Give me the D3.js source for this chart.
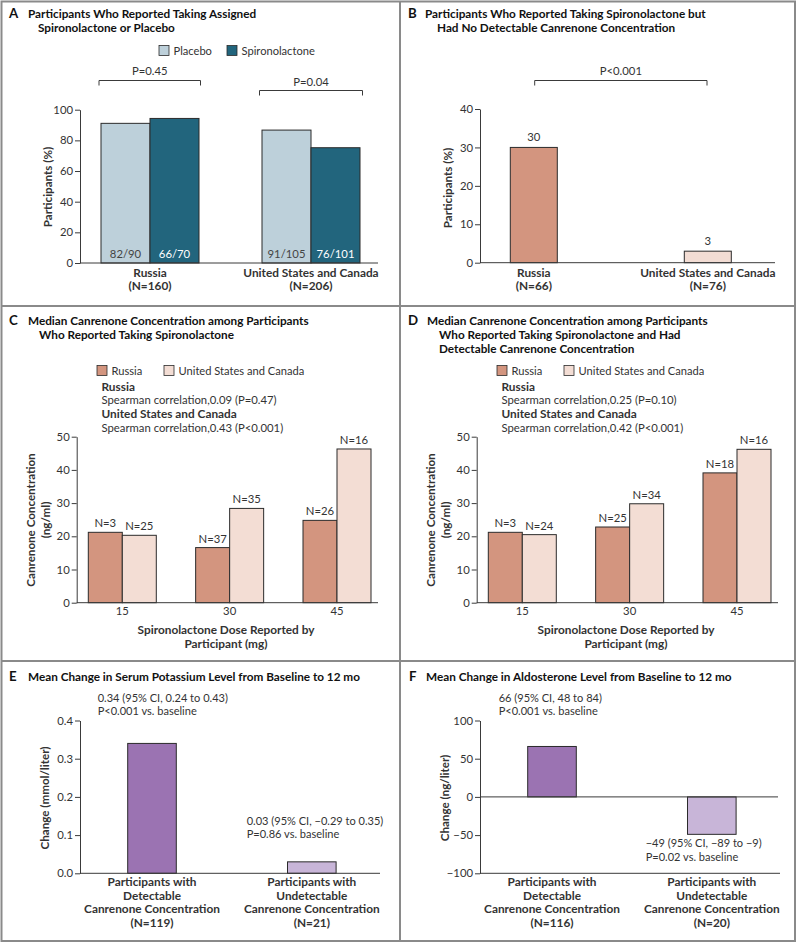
<!DOCTYPE html>
<html><head><meta charset="utf-8">
<script src="https://cdn.jsdelivr.net/npm/d3@7"></script>
<style>body{margin:0;background:#fff} text{font-family:Lato, "DejaVu Sans", sans-serif}</style>
</head><body><svg id="c" width="800" height="945"></svg>
<script>
// ---------- Data ----------
const regionsA = ["Russia", "United States and Canada"];
const regionsAN = ["(N=160)", "(N=206)"];
const seriesA = ["Placebo", "Spironolactone"];
const placeboPct = [91.1, 86.7];
const spiroPct = [94.3, 75.2];
const placeboFrac = ["82/90", "91/105"];
const spiroFrac = ["66/70", "76/101"];
const pValuesA = ["P=0.45", "P=0.04"];
const ticksA = [0, 20, 40, 60, 80, 100];

const regionsB = ["Russia", "United States and Canada"];
const regionsBN = ["(N=66)", "(N=76)"];
const undetectablePct = [30, 3];
const pValueB = "P<0.001";
const ticksB = [0, 10, 20, 30, 40];

const seriesCD = ["Russia", "United States and Canada"];
const doses = ["15", "30", "45"];
const medianC_Russia = [21.2, 16.6, 24.8];
const medianC_US = [20.3, 28.4, 46.3];
const nC_Russia = [3, 37, 26];
const nC_US = [25, 35, 16];
const corrC = ["Spearman correlation,0.09 (P=0.47)", "Spearman correlation,0.43 (P<0.001)"];
const medianD_Russia = [21.2, 22.8, 39.1];
const medianD_US = [20.5, 29.8, 46.2];
const nD_Russia = [3, 25, 18];
const nD_US = [24, 34, 16];
const corrD = ["Spearman correlation,0.25 (P=0.10)", "Spearman correlation,0.42 (P<0.001)"];
const ticksCD = [0, 10, 20, 30, 40, 50];

const groupsEF = [["Participants with", "Detectable", "Canrenone Concentration"],
                  ["Participants with", "Undetectable", "Canrenone Concentration"]];
const nE = ["(N=119)", "(N=21)"];
const potassiumChange = [0.34, 0.03];
const potassiumNotes = [["0.34 (95% CI, 0.24 to 0.43)", "P<0.001 vs. baseline"],
                        ["0.03 (95% CI, −0.29 to 0.35)", "P=0.86 vs. baseline"]];
const ticksE = [0.0, 0.1, 0.2, 0.3, 0.4];
const nF = ["(N=116)", "(N=20)"];
const aldosteroneChange = [66, -49];
const aldosteroneNotes = [["66 (95% CI, 48 to 84)", "P<0.001 vs. baseline"],
                          ["−49 (95% CI, −89 to −9)", "P=0.02 vs. baseline"]];
const ticksF = [-100, -50, 0, 50, 100];

// ---------- Style ----------
const C = {
  placebo: "#bdd0da", spiro: "#22657d",
  russia: "#d3957f", us: "#f3ddd4",
  purple: "#9b73b2", lilac: "#c8b5d8",
  stroke: "#2b2b2b", axis: "#3a3a3a", text: "#333", frame: "#8a8a8a"
};
const svg = d3.select("#c");

// font sizes fitted so that reference strings get the reference widths
function fitSize(str, weight, target) {
  const t = svg.append("text").attr("font-size", 100).attr("font-weight", weight).text(str);
  const w = t.node().getComputedTextLength();
  t.remove();
  return +(100 * target / w).toFixed(2);
}
const FS = {
  reg: fitSize("Spearman correlation,0.09 (P=0.47)", 400, 175.3),
  legend: fitSize("United States and Canada", 400, 126),
  note: fitSize("0.03 (95% CI, −0.29 to 0.35)", 400, 136.7),
  bold: fitSize("United States and Canada", 700, 135.3),
  title: fitSize("Median Canrenone Concentration among Participants", 700, 280.7),
  ylab: fitSize("Canrenone Concentration", 700, 133.3),
  tick: fitSize("N=35", 400, 28.3)
};

// Frame
svg.append("rect").attr("x", 1.5).attr("y", 1.5).attr("width", 793.5).attr("height", 939.5)
  .attr("fill", "none").attr("stroke", C.frame).attr("stroke-width", 2);
svg.append("line").attr("x1", 400).attr("x2", 400).attr("y1", 1.5).attr("y2", 941)
  .attr("stroke", C.frame).attr("stroke-width", 2);
[306, 661].forEach(y => svg.append("line").attr("x1", 1.5).attr("x2", 795).attr("y1", y).attr("y2", y)
  .attr("stroke", C.frame).attr("stroke-width", 2));

function txt(g, x, y, s, o = {}) {
  return g.append("text").attr("x", x).attr("y", y).text(s)
    .attr("font-size", o.size || FS.reg).attr("font-weight", o.weight || 400)
    .attr("fill", o.fill || C.text).attr("text-anchor", o.anchor || "start");
}
function title(letter, lx, tx, tx2, y0, lines) {
  txt(svg, lx, y0, letter, {size: FS.title + 1.5, weight: 700, fill: "#111"});
  lines.forEach((l, i) => txt(svg, i === 0 ? tx : tx2, y0 + i * 14, l, {size: FS.title, weight: 700, fill: "#111"}));
}
function yAxis(x, scale, ticks, fmt) {
  const g = svg.append("g").attr("transform", `translate(${x},0)`)
    .call(d3.axisLeft(scale).tickValues(ticks).tickSize(5).tickPadding(2).tickSizeOuter(0).tickFormat(fmt));
  g.select(".domain").attr("stroke", C.axis);
  g.selectAll(".tick line").attr("stroke", C.axis);
  g.selectAll(".tick text").attr("font-size", FS.tick).attr("fill", C.text).attr("font-family", "Lato, sans-serif");
  return g;
}
function hline(x1, x2, y) {
  svg.append("line").attr("x1", x1).attr("x2", x2).attr("y1", y).attr("y2", y).attr("stroke", C.axis).attr("stroke-width", 1);
}
function yLabel(x, y, lines) {
  lines.forEach((l, i) => svg.append("text").attr("transform", `translate(${x + i * 15},${y}) rotate(-90)`)
    .attr("text-anchor", "middle").attr("font-size", FS.ylab).attr("font-weight", 700).attr("fill", C.text).text(l));
}
function bracket(x1, x2, y, label, ly) {
  svg.append("path").attr("d", `M${x1},${y + 5}V${y}H${x2}V${y + 5}`).attr("fill", "none").attr("stroke", C.axis);
  txt(svg, (x1 + x2) / 2, ly, label, {anchor: "middle", size: FS.tick});
}
function legend(items, y) {
  items.forEach(it => {
    svg.append("rect").attr("x", it.x).attr("y", y).attr("width", 10).attr("height", 10)
      .attr("fill", it.color).attr("stroke", C.stroke).attr("stroke-width", 0.8);
    txt(svg, it.x + 14.5, y + 9.5, it.label, {size: FS.legend});
  });
}

// ---------- Panel A ----------
title("A", 9, 28, 38, 18, ["Participants Who Reported Taking Assigned", "Spironolactone or Placebo"]);
legend([{x: 159, color: C.placebo, label: "Placebo"}, {x: 227, color: C.spiro, label: "Spironolactone"}], 45.5);
{
  const y = d3.scaleLinear().domain([0, 100]).range([263, 109.7]);
  const xg = d3.scalePoint().domain(regionsA).range([150, 311]);
  const xs = d3.scaleBand().domain(seriesA).range([-49, 49]);
  const rows = regionsA.map((r, i) => ({r, vals: [placeboPct[i], spiroPct[i]], fr: [placeboFrac[i], spiroFrac[i]]}));
  rows.forEach((row, i) => {
    seriesA.forEach((s, j) => {
      const x0 = xg(row.r) + xs(s);
      svg.append("rect").attr("x", x0).attr("y", y(row.vals[j])).attr("width", xs.bandwidth())
        .attr("height", y(0) - y(row.vals[j])).attr("fill", j ? C.spiro : C.placebo)
        .attr("stroke", C.stroke).attr("stroke-width", 1);
      txt(svg, x0 + xs.bandwidth() / 2, 257.5, row.fr[j], {anchor: "middle", size: FS.tick, fill: j ? "#fff" : "#444"});
    });
    txt(svg, xg(row.r), 276.5, row.r, {anchor: "middle", weight: 700, size: FS.bold});
    txt(svg, xg(row.r), 290, regionsAN[i], {anchor: "middle", weight: 700, size: FS.bold});
  });
  yAxis(80, y, ticksA, d3.format("d"));
  hline(80, 378, y(0));
  yLabel(52, 187, ["Participants (%)"]);
  bracket(99, 200.5, 80.5, pValuesA[0], 75);
  bracket(259.5, 362.5, 90.5, pValuesA[1], 85.5);
}

// ---------- Panel B ----------
title("B", 408, 425, 437, 18, ["Participants Who Reported Taking Spironolactone but", "Had No Detectable Canrenone Concentration"]);
{
  const y = d3.scaleLinear().domain([0, 40]).range([262.7, 109]);
  const x = d3.scalePoint().domain(regionsB).range([533.8, 707.8]);
  const cols = [C.russia, C.us];
  regionsB.forEach((r, i) => {
    svg.append("rect").attr("x", x(r) - 23.5).attr("y", y(undetectablePct[i])).attr("width", 47)
      .attr("height", y(0) - y(undetectablePct[i])).attr("fill", cols[i]).attr("stroke", C.stroke);
    txt(svg, x(r), y(undetectablePct[i]) - 6, undetectablePct[i], {anchor: "middle", size: FS.tick});
    txt(svg, x(r), 276.5, r, {anchor: "middle", weight: 700, size: FS.bold});
    txt(svg, x(r), 290, regionsBN[i], {anchor: "middle", weight: 700, size: FS.bold});
  });
  yAxis(480, y, ticksB, d3.format("d"));
  hline(480, 775, y(0));
  yLabel(452, 188, ["Participants (%)"]);
  bracket(534.7, 707, 80.5, pValueB, 74.5);
}

// ---------- Panels C & D ----------
function panelCD(ox, rus, us, nR, nU, corr) {
  const y = d3.scaleLinear().domain([0, 50]).range([602.7, 436.7]);
  const xg = d3.scalePoint().domain(doses).range([122.3 + ox, 337 + ox]);
  const xs = d3.scaleBand().domain(seriesCD).range([-34, 34]);
  doses.forEach((d, i) => {
    [[rus[i], nR[i], C.russia], [us[i], nU[i], C.us]].forEach(([v, n, col], j) => {
      const x0 = xg(d) + xs(seriesCD[j]);
      svg.append("rect").attr("x", x0).attr("y", y(v)).attr("width", xs.bandwidth())
        .attr("height", y(0) - y(v)).attr("fill", col).attr("stroke", C.stroke);
      txt(svg, x0 + xs.bandwidth() / 2, y(v) - 5, "N=" + n, {anchor: "middle", size: FS.tick});
    });
    txt(svg, xg(d), 614.5, d, {anchor: "middle", size: FS.tick});
  });
  yAxis(76.7 + ox, y, ticksCD, d3.format("d"));
  hline(76.7 + ox, 378 + ox, y(0));
  yLabel(35 + ox, 520, ["Canrenone Concentration", "(ng/ml)"]);
  txt(svg, 226 + ox, 633.5, "Spironolactone Dose Reported by", {anchor: "middle", weight: 700, size: FS.bold});
  txt(svg, 226 + ox, 647.5, "Participant (mg)", {anchor: "middle", weight: 700, size: FS.bold});
  legend([{x: 97 + ox, color: C.russia, label: seriesCD[0]}, {x: 164 + ox, color: C.us, label: seriesCD[1]}], 365.5);
  const tx = 101.5 + ox;
  txt(svg, tx, 390.5, seriesCD[0], {weight: 700, size: FS.bold});
  txt(svg, tx, 404, corr[0]);
  txt(svg, tx, 418, seriesCD[1], {weight: 700, size: FS.bold});
  txt(svg, tx, 431.5, corr[1]);
}
title("C", 9, 28, 39, 325, ["Median Canrenone Concentration among Participants", "Who Reported Taking Spironolactone"]);
panelCD(0, medianC_Russia, medianC_US, nC_Russia, nC_US, corrC);
title("D", 408, 427, 439, 325, ["Median Canrenone Concentration among Participants", "Who Reported Taking Spironolactone and Had", "Detectable Canrenone Concentration"]);
panelCD(400, medianD_Russia, medianD_US, nD_Russia, nD_US, corrD);

// ---------- Panels E & F ----------
function panelEF(ox, dom, ticks, fmt, vals, notes, ns, noteYs, ylab) {
  const y = d3.scaleLinear().domain(dom).range([873.3, 720.5]);
  const x = d3.scalePoint().domain([0, 1]).range([152 + ox, 311.8 + ox]);
  const cols = [C.purple, C.lilac];
  vals.forEach((v, i) => {
    svg.append("rect").attr("x", x(i) - 24.3).attr("y", y(Math.max(0, v))).attr("width", 48.6)
      .attr("height", Math.abs(y(v) - y(0))).attr("fill", cols[i]).attr("stroke", C.stroke);
    const lines = groupsEF[i].concat([ns[i]]);
    lines.forEach((l, k) => txt(svg, x(i), 886 + k * 13.6, l, {anchor: "middle", weight: 700, size: FS.bold}));
    notes[i].forEach((l, k) => txt(svg, noteYs[i][0] + ox, noteYs[i][1] + k * 13.4, l, {size: FS.note}));
  });
  yAxis(80 + ox, y, ticks, fmt);
  hline(80 + ox, 380 + ox, y(dom[0]));
  if (dom[0] < 0) hline(80 + ox, 378 + ox, y(0));
  yLabel(49 + ox, 798, [ylab]);
}
title("E", 9, 28, 28, 681, ["Mean Change in Serum Potassium Level from Baseline to 12 mo"]);
panelEF(0, [0, 0.4], ticksE, d3.format(".1f"), potassiumChange, potassiumNotes, nE,
  [[97.7, 701.7], [246.7, 825]], "Change (mmol/liter)");
title("F", 409, 426, 426, 681, ["Mean Change in Aldosterone Level from Baseline to 12 mo"]);
panelEF(400, [-100, 100], ticksF, d3.format("d"), aldosteroneChange, aldosteroneNotes, nF,
  [[98.7, 701.7], [245.7, 847.3]], "Change (ng/liter)");
</script></body></html>
